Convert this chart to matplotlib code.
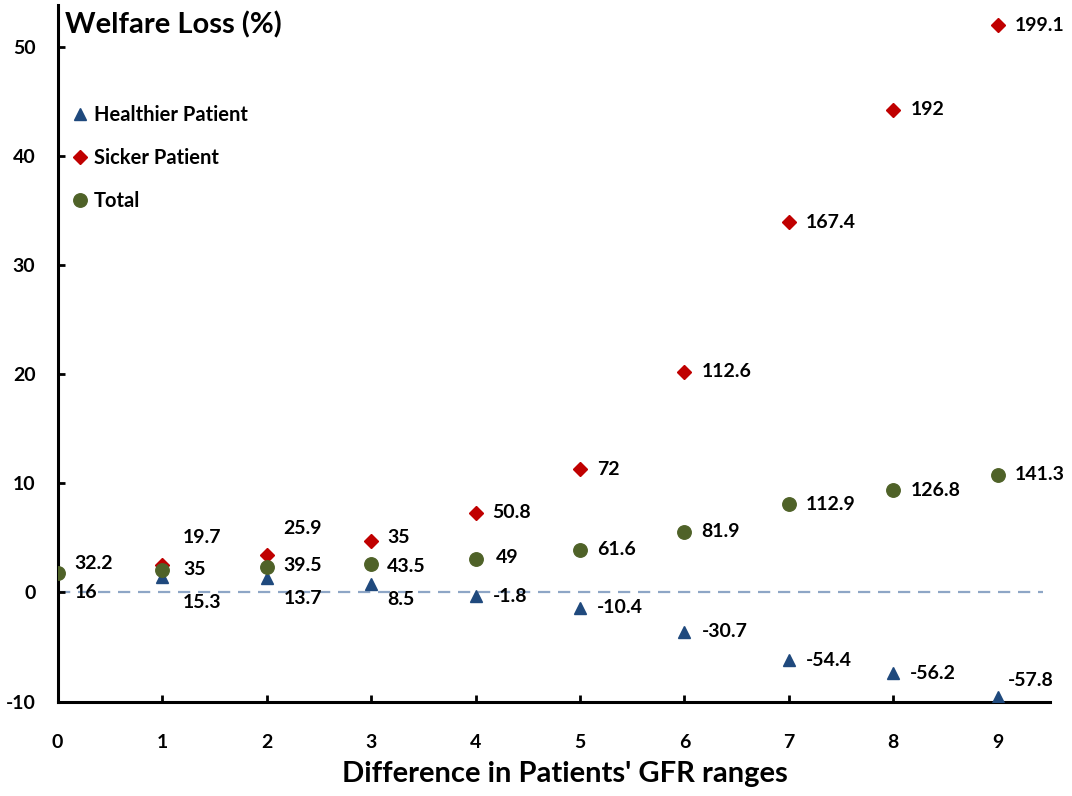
import numpy as np
import matplotlib
matplotlib.use("Agg")
import matplotlib.pyplot as plt

plt.rcParams['font.family'] = ['Lato', 'DejaVu Sans']
plt.rcParams['font.weight'] = 'bold'
plt.rcParams['axes.unicode_minus'] = False

# data: plotted positions and the printed labels
x = np.arange(10)
sicker_y = [np.nan, 2.5, 3.4, 4.7, 7.3, 11.3, 20.2, 33.9, 44.2, 51.95]
total_y = [1.74, 2.04, 2.3, 2.65, 3.05, 3.9, 5.56, 8.06, 9.36, 10.8]
healthier_y = [np.nan, 1.4, 1.3, 0.8, -0.35, -1.4, -3.6, -6.2, -7.4, -9.6]

sicker_lbl = ["", "19.7", "25.9", "35", "50.8", "72", "112.6", "167.4", "192", "199.1"]
total_lbl = ["32.2", "35", "39.5", "43.5", "49", "61.6", "81.9", "112.9", "126.8", "141.3"]
healthier_lbl = ["16", "15.3", "13.7", "8.5", "-1.8", "-10.4", "-30.7", "-54.4", "-56.2", "-57.8"]

c_red = '#C00000'
c_green = '#4F6228'
c_blue = '#1F497D'

fig = plt.figure(figsize=(10.72, 7.96), dpi=100)
ax = fig.add_axes([0.0538, 0.1185, 0.9257, 0.8752])

ax.hlines(0, 0, 9.43, colors='#8EA6C6', linewidth=1.6, linestyles=(0, (5.5, 3.5)), zorder=1)

ax.plot(x, healthier_y, ls='none', marker='^', ms=9.2, color=c_blue, label='Healthier Patient', zorder=3)
ax.plot(x, sicker_y, ls='none', marker='D', ms=7.2, color=c_red, label='Sicker Patient', zorder=3)
ax.plot(x, total_y, ls='none', marker='o', ms=9.7, color=c_green, label='Total', zorder=4)

# label offsets in pixels (dx right, dy down); default is right of the marker
offsets = {
    ('t', 0): (17, -10), ('h', 0): (17, 19),
    ('s', 1): (21, -28), ('t', 1): (21, -1), ('h', 1): (21, 25),
    ('s', 2): (17, -27), ('t', 2): (17, -2), ('h', 2): (17, 20),
    ('s', 3): (16, -4), ('t', 3): (16, 3), ('h', 3): (16, 16),
    ('t', 4): (20, -2),
    ('h', 9): (10, -17),
}

for key, ys, lbls in [('s', sicker_y, sicker_lbl), ('t', total_y, total_lbl), ('h', healthier_y, healthier_lbl)]:
    for i in range(len(x)):
        if not lbls[i]:
            continue
        yy = ys[i] if not np.isnan(ys[i]) else total_y[i]
        dx, dy = offsets.get((key, i), (17, 0))
        ax.annotate(lbls[i], (x[i], yy), xytext=(dx, -dy), textcoords='offset pixels',
                    ha='left', va='center', fontsize=14, fontweight='bold', zorder=5)

ax.set_xlim(0, 9.5)
ax.set_ylim(-10, 53.8)
ax.set_xticks(range(10))
ax.set_yticks(range(-10, 51, 10))

for s in ['top', 'right']:
    ax.spines[s].set_visible(False)
for s in ['left', 'bottom']:
    ax.spines[s].set_linewidth(2.2)

ax.tick_params(axis='both', direction='in', length=5, width=2, labelsize=14)
ax.tick_params(axis='x', pad=23)
ax.tick_params(axis='y', pad=16)
for lab in ax.get_xticklabels() + ax.get_yticklabels():
    lab.set_fontweight('bold')

ax.text(0.0074, 0.971, 'Welfare Loss (%)', transform=ax.transAxes, fontsize=21,
        fontweight='bold', ha='left', va='center')

ax.set_xlabel("Difference in Patients' GFR ranges", fontsize=21, fontweight='bold')
ax.xaxis.set_label_coords(0.511, -0.085)

ax.legend(loc='upper left', bbox_to_anchor=(0.0124, 0.857), frameon=False, fontsize=14.5,
          handlelength=1, handletextpad=0.2, labelspacing=1.15, borderpad=0, borderaxespad=0)

fig.savefig('out.png', dpi=100)
